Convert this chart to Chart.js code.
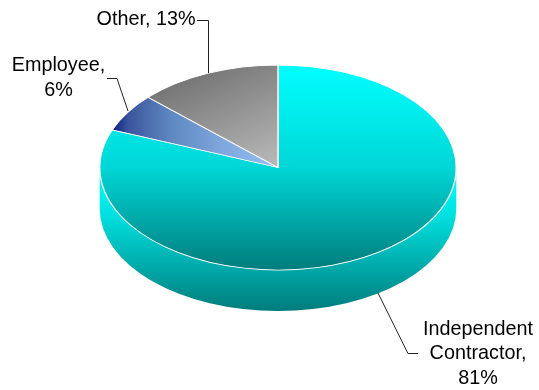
<!DOCTYPE html>
<html>
<head>
<meta charset="utf-8">
<style>
  html, body { margin: 0; padding: 0; background: #fff; }
  canvas { display: block; }
</style>
<script src="https://cdn.jsdelivr.net/npm/chart.js@4"></script>
</head>
<body>
<canvas id="workers-pie" width="539" height="390"></canvas>
<script>
const categories = ['Independent Contractor', 'Employee', 'Other'];
const shares = [81, 6, 13];
const labelLines = [
    ['Independent', 'Contractor,', '81%'],
    ['Employee,', '6%'],
    ['Other, 13%']
];

// tilt of the pie and where it sits on the page
const TILT = 0.575;
const CENTER_Y = 167.5;
const DEPTH = 41;

const labelLayout = [
    { x: 478, y: 329.5, leader: [[378, 293], [408, 353.5], [418, 353.5]] },
    { x: 58.5, y: 66, leader: [[107, 78.5], [117, 78.5], [128, 111]] },
    { x: 146, y: 20, leader: [[197, 20.5], [208.5, 20.5], [208.5, 73]] }
];

function sliceFill(context) {
    const chart = context.chart;
    const area = chart.chartArea;
    if (!area) return '#00d6d6';
    const ctx = chart.ctx;
    const cx = (area.left + area.right) / 2;
    const cy = (area.top + area.bottom) / 2;
    const r = (area.right - area.left) / 2;
    let g;
    if (context.dataIndex === 0) {
        g = ctx.createLinearGradient(0, cy - r, 0, cy + r);
        g.addColorStop(0, '#00ffff');
        g.addColorStop(0.5, '#00d6d6');
        g.addColorStop(1, '#007c7c');
    } else if (context.dataIndex === 1) {
        g = ctx.createLinearGradient(cx - r * 0.93, 0, cx, 0);
        g.addColorStop(0, '#0a1a80');
        g.addColorStop(0.1, '#3a559c');
        g.addColorStop(0.35, '#5e86c0');
        g.addColorStop(0.65, '#7ea6dc');
        g.addColorStop(1, '#94bef4');
    } else {
        g = ctx.createLinearGradient(cx - r * 0.72, cy - r * 0.9, cx, cy);
        g.addColorStop(0, '#6c6c6c');
        g.addColorStop(1, '#bababa');
    }
    return g;
}

const tiltedPie = {
    id: 'tiltedPie',
    beforeDatasetsDraw(chart) {
        const ctx = chart.ctx;
        const arc = chart.getDatasetMeta(0).data[0];
        const r = arc.outerRadius;
        const ry = r * TILT;

        // side wall under the front half
        const wall = ctx.createLinearGradient(0, CENTER_Y, 0, CENTER_Y + ry + DEPTH);
        wall.addColorStop(0, '#00ffff');
        wall.addColorStop(0.3, '#00e4e4');
        wall.addColorStop(1, '#007c7c');
        ctx.beginPath();
        ctx.ellipse(arc.x, CENTER_Y, r, ry, 0, 0, Math.PI);
        ctx.ellipse(arc.x, CENTER_Y + DEPTH, r, ry, 0, Math.PI, 0, true);
        ctx.closePath();
        ctx.fillStyle = wall;
        ctx.fill();

        ctx.save();
        ctx.translate(0, CENTER_Y);
        ctx.scale(1, TILT);
        ctx.translate(0, -arc.y);
    },
    afterDatasetsDraw(chart) {
        const ctx = chart.ctx;
        ctx.restore();

        ctx.strokeStyle = '#222';
        ctx.lineWidth = 1;
        labelLayout.forEach(function(item) {
            ctx.beginPath();
            item.leader.forEach(function(p, i) {
                if (i === 0) ctx.moveTo(p[0], p[1]);
                else ctx.lineTo(p[0], p[1]);
            });
            ctx.stroke();
        });

        ctx.fillStyle = '#000';
        ctx.font = '19.8px "Liberation Sans", Arial, sans-serif';
        ctx.textAlign = 'center';
        ctx.textBaseline = 'middle';
        labelLines.forEach(function(lines, i) {
            lines.forEach(function(line, j) {
                ctx.fillText(line, labelLayout[i].x, labelLayout[i].y + j * 24.5);
            });
        });
    }
};

new Chart(document.getElementById('workers-pie'), {
    type: 'pie',
    data: {
        labels: categories,
        datasets: [{
            data: shares,
            backgroundColor: sliceFill,
            borderColor: '#ffffff',
            borderWidth: 1.4
        }]
    },
    options: {
        responsive: false,
        animation: false,
        layout: { padding: { left: 99, right: 82, top: 16, bottom: 16 } },
        plugins: {
            legend: { display: false },
            tooltip: { enabled: false }
        }
    },
    plugins: [tiltedPie]
});
</script>
</body>
</html>
